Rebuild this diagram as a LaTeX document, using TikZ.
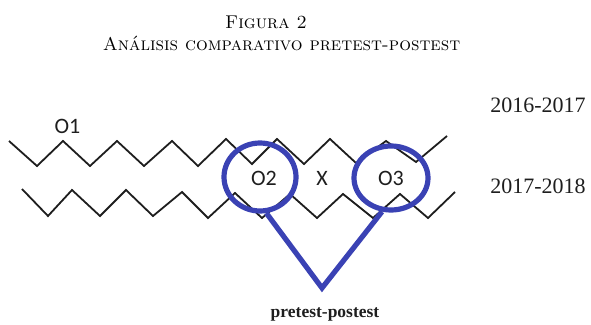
\documentclass[tikz,border=0pt]{standalone}
\usepackage{fontspec}
\usetikzlibrary{shapes.geometric}
\newfontfamily\labelfont{Carlito}
\newfontfamily\yearfont{Liberation Serif}
\definecolor{zigblack}{RGB}{30,30,30}
\definecolor{penblue}{RGB}{58,66,180}
\tikzset{
  zig/.style={draw=zigblack,line width=1.8pt,line join=miter},
  ring/.style={ellipse,draw=penblue,line width=5.2pt,inner sep=0pt},
  vline/.style={draw=penblue,line width=5.2pt,line join=miter},
  olabel/.style={font=\labelfont\fontsize{22}{22}\selectfont,text=zigblack,inner sep=0pt},
  yearlabel/.style={font=\yearfont\fontsize{22}{22}\selectfont,text=zigblack,inner sep=0pt,anchor=base},
  titlelabel/.style={font=\fontsize{18.5}{18.5}\selectfont\scshape,text=black,inner sep=0pt,anchor=base}
}
\begin{document}
\begin{tikzpicture}[x=1pt,y=-1pt]
\useasboundingbox (0,0) rectangle (591,324);
% title
\node[titlelabel] (t1) at (266,28) {Figura 2};
\node[titlelabel] (t2) at (281.5,50) {Análisis comparativo pretest-postest};
% zigzags
\draw[zig] (9,141) -- (37,166) -- (63,141) -- (90,166) -- (117,141) -- (144,166) -- (172,141) -- (198,166) -- (226,139) -- (252,164) -- (277,139) -- (304,164) -- (330,139) -- (356,163) -- (386,141) -- (416,162) -- (447,136);
\draw[zig] (22,189) -- (48,216) -- (72,190) -- (100,216) -- (126,190) -- (153,216) -- (182,192) -- (208,218) -- (235,193) -- (262,218) -- (290,194) -- (317,218) -- (343,194) -- (373,218) -- (400,194) -- (428,218) -- (455,192);
% labels
\node[olabel] (o1) at (67.5,126.5) {O1};
\node[olabel] (o2) at (264,178) {O2};
\node[olabel] (x) at (322,178) {X};
\node[olabel] (o3) at (391,178) {O3};
% rings
\node[ring,minimum width=72pt,minimum height=68pt] (c2) at (260,177) {};
\node[ring,minimum width=74pt,minimum height=64pt] (c3) at (391,178) {};
\coordinate (apex) at (322,288);
\draw[vline] (c2.-80) -- (apex) -- (c3.255);
% years
\node[yearlabel] (y1) at (538,112) {2016-2017};
\node[yearlabel] (y2) at (538,193) {2017-2018};
% bottom label
\node[font=\yearfont\bfseries\fontsize{17.5}{17.5}\selectfont,text=zigblack,inner sep=0pt] (pp) at (325,314) {pretest-postest};
\end{tikzpicture}
\end{document}
